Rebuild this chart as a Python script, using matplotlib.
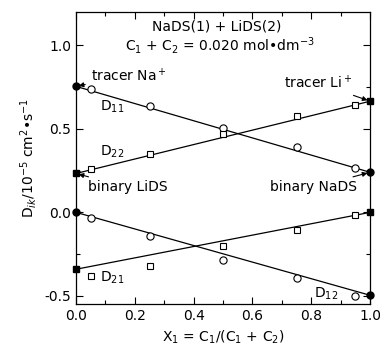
import matplotlib
matplotlib.use('Agg')
import matplotlib.pyplot as plt
import numpy as np
from matplotlib.ticker import MultipleLocator

# composition points
x_meas = [0.05, 0.25, 0.5, 0.75, 0.95]
x_ends = [0.0, 1.0]

# measured values (open symbols)
d11 = [0.74, 0.635, 0.505, 0.389, 0.263]
d22 = [0.257, 0.349, 0.467, 0.577, 0.645]
d12 = [-0.032, -0.142, -0.283, -0.393, -0.503]
d21 = [-0.383, -0.321, -0.204, -0.106, -0.014]

# limiting values (filled symbols) at x = 0 and x = 1
d11_ends = [0.755, 0.24]
d22_ends = [0.233, 0.666]
d12_ends = [0.0, -0.497]
d21_ends = [-0.341, 0.0]

plt.rcParams['font.family'] = 'DejaVu Sans'
plt.rcParams['font.size'] = 10

fig = plt.figure(figsize=(3.8, 3.46), dpi=100)
ax = fig.add_axes([0.2, 0.121, 0.774, 0.844])

for vals, ends, mk, ms, fms in [(d11, d11_ends, 'o', 5.2, 5), (d12, d12_ends, 'o', 5.2, 5),
                                (d22, d22_ends, 's', 4, 4.3), (d21, d21_ends, 's', 4, 4.3)]:
    ax.plot(x_ends, ends, '-', color='black', lw=0.9)
    ax.plot(x_meas, vals, mk, mfc='white', mec='black', ms=ms, mew=0.8, zorder=3)
    ax.plot(x_ends, ends, mk, color='black', ms=fms, zorder=4, clip_on=False)

ax.set_xlim(0, 1)
ax.set_ylim(-0.55, 1.2)
ax.xaxis.set_major_locator(MultipleLocator(0.2))
ax.xaxis.set_minor_locator(MultipleLocator(0.1))
ax.yaxis.set_major_locator(MultipleLocator(0.5))
ax.yaxis.set_minor_locator(MultipleLocator(0.25))
ax.tick_params(which='both', direction='in', top=True, right=True, width=0.8)
ax.tick_params(which='major', length=5)
ax.tick_params(which='minor', length=3)
ax.xaxis.set_major_formatter(plt.FuncFormatter(lambda v, p: '%.1f' % v))
ax.yaxis.set_major_formatter(plt.FuncFormatter(lambda v, p: '%.1f' % v))
for s in ax.spines.values():
    s.set_linewidth(0.9)

ax.set_xlabel('X$_1$ = C$_1$/(C$_1$ + C$_2$)')
ax.set_ylabel('D$_{ik}$/10$^{-5}$ cm$^2$•s$^{-1}$')

ax.text(0.48, 1.115, 'NaDS(1) + LiDS(2)', ha='center', va='center')
ax.text(0.49, 1.0, 'C$_1$ + C$_2$ = 0.020 mol•dm$^{-3}$', ha='center', va='center')

ax.text(0.08, 0.63, 'D$_{11}$', ha='left', va='center')
ax.text(0.08, 0.36, 'D$_{22}$', ha='left', va='center')
ax.text(0.08, -0.39, 'D$_{21}$', ha='left', va='center')
ax.text(0.81, -0.49, 'D$_{12}$', ha='left', va='center')

arr = dict(arrowstyle='-|>', color='black', lw=0.8, mutation_scale=7)
ax.annotate('tracer Na$^+$', xy=(0.0, d11_ends[0]), xytext=(0.05, 0.82),
            ha='left', va='center', arrowprops=arr)
ax.annotate('tracer Li$^+$', xy=(1.0, d22_ends[1]), xytext=(0.94, 0.775),
            ha='right', va='center', arrowprops=arr)
ax.annotate('binary LiDS', xy=(0.0, d22_ends[0]), xytext=(0.04, 0.15),
            ha='left', va='center', arrowprops=arr)
ax.annotate('binary NaDS', xy=(1.0, d11_ends[1]), xytext=(0.955, 0.15),
            ha='right', va='center', arrowprops=arr)

fig.savefig('out.png', dpi=100)
